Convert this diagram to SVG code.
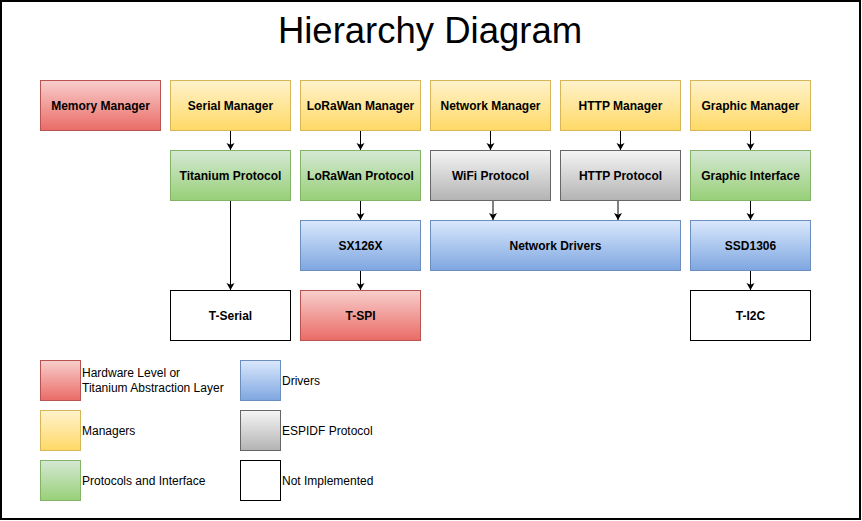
<svg xmlns="http://www.w3.org/2000/svg" width="862" height="521" viewBox="0 0 862 521">
<defs>
<linearGradient id="gRed" x1="0" y1="0" x2="0" y2="1"><stop offset="0" stop-color="#f8cecc"/><stop offset="1" stop-color="#ea6b66"/></linearGradient>
<linearGradient id="gYel" x1="0" y1="0" x2="0" y2="1"><stop offset="0" stop-color="#fff2cc"/><stop offset="1" stop-color="#ffd966"/></linearGradient>
<linearGradient id="gGrn" x1="0" y1="0" x2="0" y2="1"><stop offset="0" stop-color="#d5e8d4"/><stop offset="1" stop-color="#97d077"/></linearGradient>
<linearGradient id="gBlu" x1="0" y1="0" x2="0" y2="1"><stop offset="0" stop-color="#dae8fc"/><stop offset="1" stop-color="#7ea6e0"/></linearGradient>
<linearGradient id="gGry" x1="0" y1="0" x2="0" y2="1"><stop offset="0" stop-color="#f5f5f5"/><stop offset="1" stop-color="#b3b3b3"/></linearGradient>
<marker id="arr" markerWidth="8" markerHeight="10" refX="7" refY="4" orient="auto" markerUnits="userSpaceOnUse" viewBox="0 0 8 8">
<path d="M0,0 L7,4 L0,8 L1.8,4 Z" fill="#000"/>
</marker>
<style>
.red{fill:url(#gRed);stroke:#b85450}
.yel{fill:url(#gYel);stroke:#d6b656}
.grn{fill:url(#gGrn);stroke:#82b366}
.blu{fill:url(#gBlu);stroke:#6c8ebf}
.gry{fill:url(#gGry);stroke:#666666}
.wht{fill:#ffffff;stroke:#000000}
.lbl{font-family:"Liberation Sans",Arial,sans-serif;font-size:12px;font-weight:bold;fill:#000;text-anchor:middle}
.leg{font-family:"Liberation Sans",Arial,sans-serif;font-size:12px;fill:#000}
.edge{stroke:#000;stroke-width:1;fill:none;marker-end:url(#arr)}
</style>
</defs>
<rect x="0" y="0" width="862" height="521" fill="#ffffff"/>
<rect x="1" y="1" width="859" height="518" fill="none" stroke="#000" stroke-width="2"/>
<text x="430" y="43" font-family="'Liberation Sans',Arial,sans-serif" font-size="36.5" text-anchor="middle" fill="#000">Hierarchy Diagram</text>

<g id="memory-manager"><rect class="red" x="40.5" y="80.5" width="120" height="50"/><text class="lbl" x="100.5" y="110">Memory Manager</text></g>
<g id="serial-manager"><rect class="yel" x="170.5" y="80.5" width="120" height="50"/><text class="lbl" x="230.5" y="110">Serial Manager</text></g>
<g id="lorawan-manager"><rect class="yel" x="300.5" y="80.5" width="120" height="50"/><text class="lbl" x="360.5" y="110">LoRaWan Manager</text></g>
<g id="network-manager"><rect class="yel" x="430.5" y="80.5" width="120" height="50"/><text class="lbl" x="490.5" y="110">Network Manager</text></g>
<g id="http-manager"><rect class="yel" x="560.5" y="80.5" width="120" height="50"/><text class="lbl" x="620.5" y="110">HTTP Manager</text></g>
<g id="graphic-manager"><rect class="yel" x="690.5" y="80.5" width="120" height="50"/><text class="lbl" x="750.5" y="110">Graphic Manager</text></g>

<g id="titanium-protocol"><rect class="grn" x="170.5" y="150.5" width="120" height="50"/><text class="lbl" x="230.5" y="180">Titanium Protocol</text></g>
<g id="lorawan-protocol"><rect class="grn" x="300.5" y="150.5" width="120" height="50"/><text class="lbl" x="360.5" y="180">LoRaWan Protocol</text></g>
<g id="wifi-protocol"><rect class="gry" x="430.5" y="150.5" width="120" height="50"/><text class="lbl" x="490.5" y="180">WiFi Protocol</text></g>
<g id="http-protocol"><rect class="gry" x="560.5" y="150.5" width="120" height="50"/><text class="lbl" x="620.5" y="180">HTTP Protocol</text></g>
<g id="graphic-interface"><rect class="grn" x="690.5" y="150.5" width="120" height="50"/><text class="lbl" x="750.5" y="180">Graphic Interface</text></g>

<g id="sx126x"><rect class="blu" x="300.5" y="220.5" width="120" height="50"/><text class="lbl" x="360.5" y="250">SX126X</text></g>
<g id="network-drivers"><rect class="blu" x="430.5" y="220.5" width="250" height="50"/><text class="lbl" x="555.5" y="250">Network Drivers</text></g>
<g id="ssd1306"><rect class="blu" x="690.5" y="220.5" width="120" height="50"/><text class="lbl" x="750.5" y="250">SSD1306</text></g>

<g id="t-serial"><rect class="wht" x="170.5" y="290.5" width="120" height="50"/><text class="lbl" x="230.5" y="320">T-Serial</text></g>
<g id="t-spi"><rect class="red" x="300.5" y="290.5" width="120" height="50"/><text class="lbl" x="360.5" y="320">T-SPI</text></g>
<g id="t-i2c"><rect class="wht" x="690.5" y="290.5" width="120" height="50"/><text class="lbl" x="750.5" y="320">T-I2C</text></g>

<g id="connectors">
<line class="edge" x1="230.5" y1="131" x2="230.5" y2="150"/>
<line class="edge" x1="360.5" y1="131" x2="360.5" y2="150"/>
<line class="edge" x1="490.5" y1="131" x2="490.5" y2="150"/>
<line class="edge" x1="620.5" y1="131" x2="620.5" y2="150"/>
<line class="edge" x1="750.5" y1="131" x2="750.5" y2="150"/>
<line class="edge" x1="230.5" y1="201" x2="230.5" y2="290"/>
<line class="edge" x1="360.5" y1="201" x2="360.5" y2="220"/>
<line class="edge" x1="493" y1="201" x2="493" y2="220"/>
<line class="edge" x1="618" y1="201" x2="618" y2="220"/>
<line class="edge" x1="750.5" y1="201" x2="750.5" y2="220"/>
<line class="edge" x1="360.5" y1="271" x2="360.5" y2="290"/>
<line class="edge" x1="750.5" y1="271" x2="750.5" y2="290"/>
</g>

<g id="legend">
<rect class="red" x="40.5" y="360.5" width="40" height="40"/>
<text class="leg" x="82" y="377">Hardware Level or</text>
<text class="leg" x="82" y="391.5">Titanium Abstraction Layer</text>
<rect class="yel" x="40.5" y="410.5" width="40" height="40"/>
<text class="leg" x="82" y="435">Managers</text>
<rect class="grn" x="40.5" y="460.5" width="40" height="40"/>
<text class="leg" x="82" y="485">Protocols and Interface</text>
<rect class="blu" x="240.5" y="360.5" width="40" height="40"/>
<text class="leg" x="282" y="385">Drivers</text>
<rect class="gry" x="240.5" y="410.5" width="40" height="40"/>
<text class="leg" x="282" y="435">ESPIDF Protocol</text>
<rect class="wht" x="240.5" y="460.5" width="40" height="40"/>
<text class="leg" x="282" y="485">Not Implemented</text>
</g>
</svg>
